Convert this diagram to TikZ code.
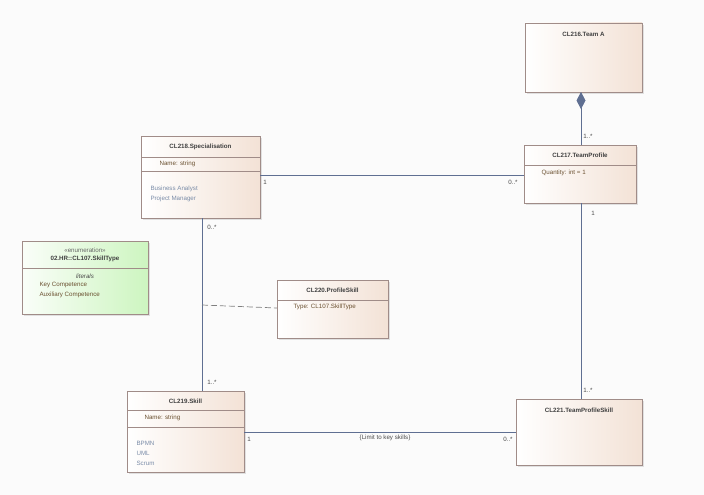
\documentclass[tikz,border=0pt]{standalone}
\usepackage{fontspec}
\setmainfont{Liberation Sans}
\usetikzlibrary{arrows.meta}
\definecolor{bord}{HTML}{A08C88}
\definecolor{cls}{HTML}{F3E2D6}
\definecolor{enm}{HTML}{CDF5C0}
\definecolor{ln}{HTML}{5F6F92}
\definecolor{txt}{HTML}{6A5030}
\definecolor{lit}{HTML}{7A8CA8}
\tikzset{
 box/.style={draw=bord,left color=white,right color=cls,shading angle=90},
 ebox/.style={draw=bord,left color=white!90!enm,right color=enm},
 ttl/.style={font=\fontsize{6.2}{7}\selectfont\bfseries,text=black!75},
 att/.style={font=\fontsize{6.2}{7}\selectfont,text=txt,anchor=west},
 lv/.style={font=\fontsize{6.2}{7}\selectfont,text=lit,anchor=west},
 mul/.style={font=\fontsize{6.2}{7}\selectfont,text=black!70},
 con/.style={draw=ln,line width=0.7pt},
}
\begin{document}
\begin{tikzpicture}[x=1pt,y=-1pt]
\fill[white!97!gray] (0,0) rectangle (704,495);
\useasboundingbox (0,0) rectangle (704,495);
% shadows
\foreach \a/\b/\c/\d in {525/23/642/92,524/145/636/203,141/136/260/218,22/241/148/314,277/280/388/338,127/391/244/472,516/399/642/465}
 \fill[black!12] (\a+2,\b+2) rectangle (\c+2,\d+2);
% Team A
\path[box] (525,23) rectangle (642,92);
\node[ttl] (ta) at (583.5,34) {CL216.Team A};
\coordinate (taB) at (581,92);
% TeamProfile
\path[box] (524,145) rectangle (636,203);
\draw[bord] (524,165) -- (636,165);
\node[ttl] (tp) at (580,155) {CL217.TeamProfile};
\node[att] at (538,173) {Quantity: int = 1};
\coordinate (tpT) at (581,145); \coordinate (tpL) at (524,175); \coordinate (tpB) at (581,203);
% Specialisation
\path[box] (141,136) rectangle (260,218);
\draw[bord] (141,157) -- (260,157) (141,171) -- (260,171);
\node[ttl] (sp) at (200.5,147) {CL218.Specialisation};
\node[att] at (156,164) {Name: string};
\node[lv] at (147,189) {Business Analyst};
\node[lv] at (147,199) {Project Manager};
\coordinate (spR) at (260,175); \coordinate (spB) at (202,218);
% Enum
\path[ebox] (22,241) rectangle (148,314);
\draw[bord] (22,268) -- (148,268);
\node[font=\fontsize{6.2}{7}\selectfont,text=black!60] (en) at (85,250) {«enumeration»};
\node[ttl] at (85,259) {02.HR::CL107.SkillType};
\node[font=\fontsize{6.2}{7}\selectfont\itshape,text=black!70] at (85,276) {literals};
\node[att] at (36,285) {Key Competence};
\node[att] at (36,295) {Auxiliary Competence};
% ProfileSkill
\path[box] (277,280) rectangle (388,338);
\draw[bord] (277,300) -- (388,300);
\node[ttl] (ps) at (332.5,290) {CL220.ProfileSkill};
\node[att] at (290,307) {Type: CL107.SkillType};
\coordinate (psL) at (277,308);
% Skill
\path[box] (127,391) rectangle (244,472);
\draw[bord] (127,410) -- (244,410) (127,427) -- (244,427);
\node[ttl] (sk) at (185.5,401) {CL219.Skill};
\node[att] at (141,418) {Name: string};
\node[lv] at (133,443) {BPMN};
\node[lv] at (133,453) {UML};
\node[lv] at (133,463) {Scrum};
\coordinate (skT) at (202,391); \coordinate (skR) at (244,432);
% TeamProfileSkill
\path[box] (516,399) rectangle (642,465);
\node[ttl] (tps) at (579,410) {CL221.TeamProfileSkill};
\coordinate (tpsT) at (581,399); \coordinate (tpsL) at (516,432);
% connectors
\draw[con,{Diamond[length=17pt,width=9pt,fill=ln]}-] (taB) -- (tpT);
\draw[con] (spR) -- (tpL);
\draw[con] (spB) -- (skT);
\draw[con] (tpB) -- (tpsT);
\draw[con] (skR) -- (tpsL);
\coordinate (mid) at (202,305);
\draw[draw=gray,line width=0.7pt,dash pattern=on 6pt off 3pt] (mid) -- (psL);
% multiplicities
\node[mul] at (588,136) {1..*};
\node[mul] at (265,182) {1};
\node[mul] at (513,182) {0..*};
\node[mul] at (212,227) {0..*};
\node[mul] at (212,382) {1..*};
\node[mul] at (593,213) {1};
\node[mul] at (588,390) {1..*};
\node[mul] at (249,439) {1};
\node[mul] at (508,439) {0..*};
\node[mul] at (385,438) {\{Limit to key skills\}};
\end{tikzpicture}
\end{document}
